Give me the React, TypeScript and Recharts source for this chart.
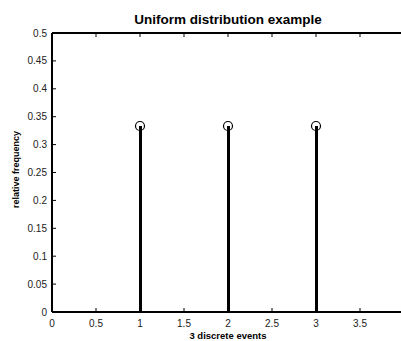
import {
  Bar,
  ComposedChart,
  Label,
  Scatter,
  XAxis,
  YAxis,
} from "recharts";

// three equally likely outcomes
const events = [1, 2, 3];
const frequency = [1 / 3, 1 / 3, 1 / 3];

const xTicks = [0, 0.5, 1, 1.5, 2, 2.5, 3, 3.5];
const yTicks = [0, 0.05, 0.1, 0.15, 0.2, 0.25, 0.3, 0.35, 0.4, 0.45, 0.5];

const data = events.map((x, i) => ({ x, p: frequency[i] }));

const FONT = "'Liberation Sans', Arial, Helvetica, sans-serif";
const tickStyle = { fill: "#222", fontSize: 10, fontFamily: FONT };

const OpenCircle = (props: any) => (
  <circle cx={props.cx} cy={props.cy} r={4.5} fill="none" stroke="#000" strokeWidth={1.2} />
);

// top frame keeps its tick marks but no labels
const NoLabel = () => <g />;

export default function App() {
  return (
    <div
      style={{
        position: "absolute",
        left: 0,
        top: 0,
        width: 401,
        height: 341,
        overflow: "hidden",
        background: "#fff",
      }}
    >
      <ComposedChart
        width={420}
        height={341}
        data={data}
        margin={{ top: 32, right: 16, bottom: 0, left: 0 }}
      >
        <XAxis
          xAxisId="bottom"
          dataKey="x"
          type="number"
          domain={[0, 4]}
          ticks={xTicks}
          height={29}
          axisLine={{ stroke: "#000", strokeWidth: 2 }}
          tickLine={{ stroke: "#000" }}
          tickSize={-4}
          tickMargin={12}
          tick={tickStyle}
          interval={0}
        >
          <Label
            content={({ viewBox }: any) => (
              <text
                x={viewBox.x + viewBox.width / 2}
                y={339}
                textAnchor="middle"
                fontFamily={FONT}
                fontWeight="bold"
                fontSize={9.5}
                fill="#000"
              >
                3 discrete events
              </text>
            )}
          />
        </XAxis>
        <XAxis
          xAxisId="top"
          dataKey="x"
          type="number"
          orientation="top"
          domain={[0, 4]}
          ticks={xTicks}
          height={1}
          axisLine={{ stroke: "#000", strokeWidth: 2 }}
          tickLine={{ stroke: "#000" }}
          tickSize={-4}
          tick={NoLabel}
          interval={0}
        >
          <Label
            content={({ viewBox }: any) => (
              <text
                x={viewBox.x + viewBox.width / 2}
                y={24}
                textAnchor="middle"
                fontFamily={FONT}
                fontWeight="bold"
                fontSize={13.5}
                fill="#000"
              >
                Uniform distribution example
              </text>
            )}
          />
        </XAxis>
        <YAxis
          yAxisId="left"
          type="number"
          domain={[0, 0.5]}
          ticks={yTicks}
          width={52}
          axisLine={{ stroke: "#000", strokeWidth: 2 }}
          tickLine={{ stroke: "#000" }}
          tickSize={-4}
          tickMargin={9}
          tick={tickStyle}
          interval={0}
        >
          <Label
            content={({ viewBox }: any) => {
              const cy = viewBox.y + viewBox.height / 2 - 3;
              return (
                <text
                  x={19}
                  y={cy}
                  transform={`rotate(-90 19 ${cy})`}
                  textAnchor="middle"
                  fontFamily={FONT}
                  fontWeight="bold"
                  fontSize={9}
                  fill="#000"
                >
                  relative frequency
                </text>
              );
            }}
          />
        </YAxis>
        <Bar
          xAxisId="bottom"
          yAxisId="left"
          dataKey="p"
          barSize={3}
          fill="#000"
          isAnimationActive={false}
        />
        <Scatter
          xAxisId="top"
          yAxisId="left"
          data={data}
          dataKey="p"
          shape={<OpenCircle />}
          isAnimationActive={false}
        />
      </ComposedChart>
    </div>
  );
}
